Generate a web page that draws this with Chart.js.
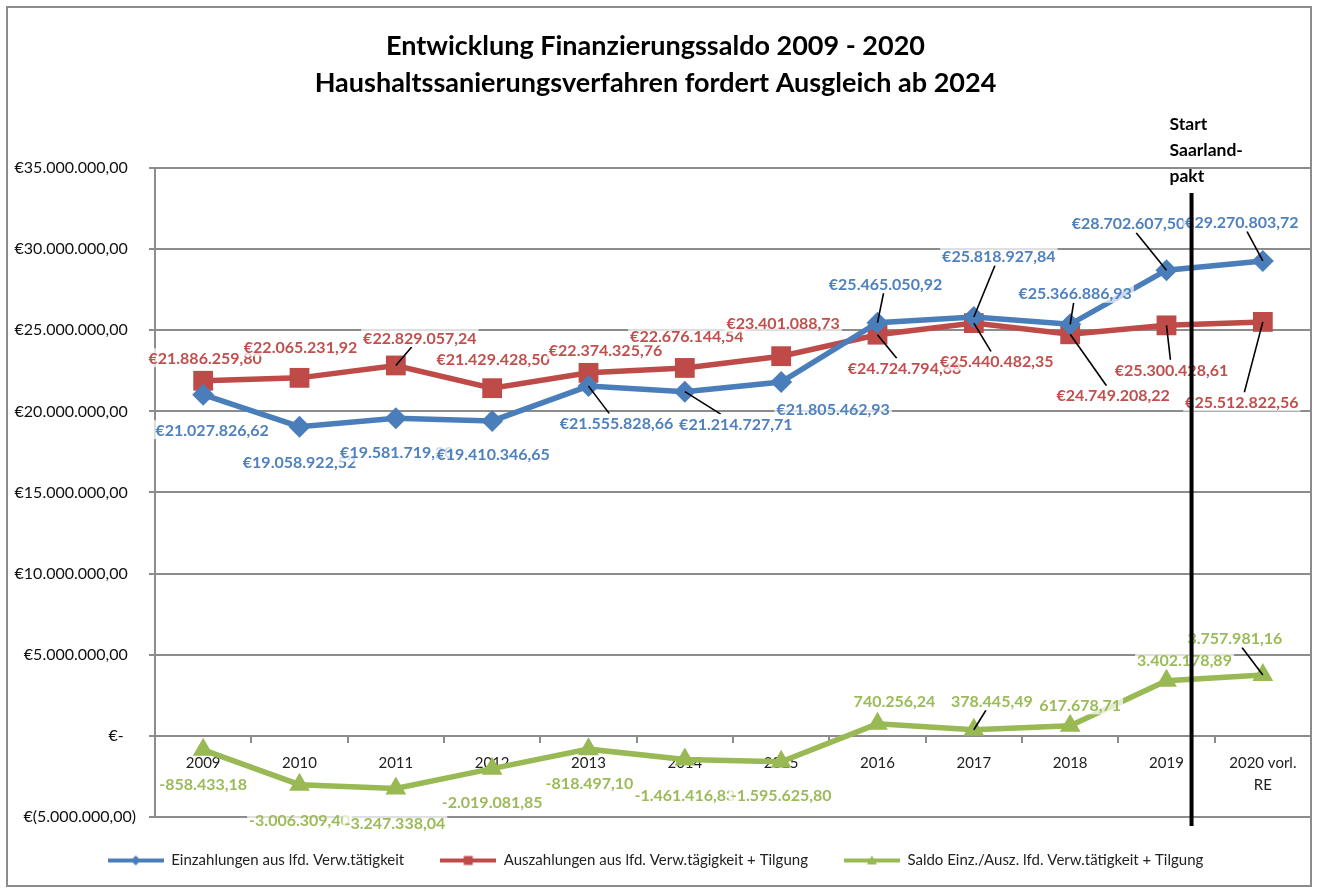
<!DOCTYPE html>
<html>
<head>
<meta charset="utf-8">
<script src="https://cdn.jsdelivr.net/npm/chart.js@4"></script>
<style>
html, body { margin: 0; background: #fff; }
#wrap { width: 1317px; height: 890px; }
</style>
</head>
<body>
<div id="wrap"><canvas id="chart"></canvas></div>
<script>
const jahre = ['2009', '2010', '2011', '2012', '2013', '2014', '2015', '2016', '2017', '2018', '2019', ['2020 vorl.', 'RE']];
const einzahlungen = [21027826.62, 19058922.52, 19581719.20, 19410346.65, 21555828.66, 21214727.71, 21805462.93, 25465050.92, 25818927.84, 25366886.93, 28702607.50, 29270803.72];
const auszahlungen = [21886259.80, 22065231.92, 22829057.24, 21429428.50, 22374325.76, 22676144.54, 23401088.73, 24724794.68, 25440482.35, 24749208.22, 25300428.61, 25512822.56];
const saldo = [-858433.18, -3006309.40, -3247338.04, -2019081.85, -818497.10, -1461416.83, -1595625.80, 740256.24, 378445.49, 617678.71, 3402178.89, 3757981.16];
const yMin = -5000000, yMax = 35000000, yStep = 5000000;

const serienNamen = ['Einzahlungen aus lfd. Verw.tätigkeit', 'Auszahlungen aus lfd. Verw.tägigkeit + Tilgung', 'Saldo Einz./Ausz. lfd. Verw.tätigkeit + Tilgung'];
const farben = ['#4A7EBB', '#BE4B48', '#98B954'];
const labelFarben = ['#4F81BD', '#C0504D', '#9BBB59'];
const prefix = ['€', '€', ''];

// Versatz der Datenbeschriftungen (px) relativ zum Punkt
const labelVersatz = [
	[[9,35],[0,35],[1,34],[1,33],[28,37],[51,32],[52,27],[8,-39],[25,-61],[5,-31],[-38,-47],[-21,-39]],
	[[2,-23],[1,-31],[24,-28],[1,-29],[17,-23],[2,-32],[2,-33],[27,33],[23,38],[43,61],[5,44],[-21,80]],
	[[0,34],[0,35],[-1,34],[0,33],[1,34],[0,35],[0,33],[17,-23],[18,-29],[10,-21],[18,-21],[-28,-37]]
];
const leitlinien = [[4,5,7,8,9,10,11], [2,7,8,9,10,11], [8,11]];

const deZahl = (v) => {
	const neg = v < 0;
	let [ganz, dez] = Math.abs(v).toFixed(2).split('.');
	ganz = ganz.replace(/(\d)(?=(\d{3})+(?!\d))/g, '$1.');
	return (neg ? '-' : '') + ganz + ',' + dez;
}

// kleine Legendensymbole: Linie mit Marker
const legendSymbol = (farbe, form) => {
	const c = document.createElement('canvas');
	c.width = 56; c.height = 12;
	const g = c.getContext('2d');
	g.strokeStyle = farbe; g.fillStyle = farbe; g.lineWidth = 4;
	g.beginPath(); g.moveTo(0, 6); g.lineTo(56, 6); g.stroke();
	g.beginPath();
	if (form === 'rauten') { g.moveTo(28, 1); g.lineTo(33, 6); g.lineTo(28, 11); g.lineTo(23, 6); }
	else if (form === 'quadrat') { g.rect(23.5, 1.5, 9, 9); }
	else { g.moveTo(28, 1); g.lineTo(33, 10); g.lineTo(23, 10); }
	g.closePath(); g.fill();
	return c;
}
const symbole = [legendSymbol(farben[0], 'rauten'), legendSymbol(farben[1], 'quadrat'), legendSymbol(farben[2], 'dreieck')];

const rahmen = {
	id: 'rahmen',
	beforeDraw(chart) {
		const ctx = chart.ctx;
		ctx.save();
		ctx.fillStyle = '#fff';
		ctx.fillRect(0, 0, chart.width, chart.height);
		ctx.strokeStyle = '#8c8c8c';
		ctx.lineWidth = 2;
		ctx.strokeRect(7, 7, 1304, 879);
		ctx.restore();
	}
};

const beschriftung = {
	id: 'beschriftung',
	afterDatasetsDraw(chart) {
		const ctx = chart.ctx;
		ctx.save();
		ctx.font = 'bold 16px Lato';
		ctx.textAlign = 'center';
		ctx.textBaseline = 'middle';
		chart.data.datasets.forEach((ds, i) => {
			const meta = chart.getDatasetMeta(i);
			meta.data.forEach((pt, j) => {
				const [dx, dy] = labelVersatz[i][j];
				const cx = pt.x + dx, cy = pt.y + dy;
				const text = prefix[i] + deZahl(ds.data[j]);
				const w = ctx.measureText(text).width + 4, h = 19;
				if (leitlinien[i].includes(j)) {
					const ddx = pt.x - cx, ddy = pt.y - cy;
					const t = Math.min(Math.abs(ddx) > 0 ? (w / 2) / Math.abs(ddx) : 9, Math.abs(ddy) > 0 ? (h / 2) / Math.abs(ddy) : 9);
					ctx.strokeStyle = '#000';
					ctx.lineWidth = 1.6;
					ctx.beginPath();
					ctx.moveTo(pt.x, pt.y);
					ctx.lineTo(cx + ddx * t, cy + ddy * t);
					ctx.stroke();
				}
				ctx.fillStyle = 'rgba(255,255,255,0.72)';
				ctx.fillRect(cx - w / 2, cy - h / 2, w, h);
				ctx.fillStyle = labelFarben[i];
				ctx.fillText(text, cx, cy + 1);
			});
		});
		ctx.restore();
	}
};

const saarlandpakt = {
	id: 'saarlandpakt',
	afterDraw(chart) {
		const ctx = chart.ctx, x = chart.scales.x, area = chart.chartArea;
		const px = x.getPixelForValue(10) + 0.26 * (x.getPixelForValue(11) - x.getPixelForValue(10));
		ctx.save();
		ctx.strokeStyle = '#000';
		ctx.lineWidth = 4;
		ctx.beginPath();
		ctx.moveTo(px, area.top + 25);
		ctx.lineTo(px, area.bottom + 9);
		ctx.stroke();
		ctx.fillStyle = '#000';
		ctx.font = 'bold 17.5px Lato';
		ctx.textAlign = 'left';
		ctx.textBaseline = 'middle';
		['Start', 'Saarland-', 'pakt'].forEach((z, k) => ctx.fillText(z, px - 22, area.top - 44 + k * 26));
		ctx.restore();
	}
};

Chart.defaults.font.family = 'Lato';
Chart.defaults.color = '#222';

const datasets = [einzahlungen, auszahlungen, saldo].map((werte, i) => ({
	label: serienNamen[i],
	data: werte,
	borderColor: farben[i],
	backgroundColor: farben[i],
	borderWidth: 5.5,
	pointStyle: ['rectRot', 'rect', 'triangle'][i],
	pointRadius: [11, 14, 12][i],
	pointHoverRadius: [11, 14, 12][i],
	pointBorderWidth: 0,
	tension: 0,
	clip: false
}));

const chart = new Chart(document.getElementById('chart'), {
	type: 'line',
	data: { labels: jahre, datasets: datasets },
	options: {
		responsive: true,
		maintainAspectRatio: false,
		animation: false,
		layout: { autoPadding: false, padding: { left: 0, right: 6, top: 0, bottom: 12 } },
		plugins: {
			title: {
				display: true,
				text: ['Entwicklung Finanzierungssaldo 2009 - 2020', 'Haushaltssanierungsverfahren fordert Ausgleich ab 2024'],
				color: '#000',
				font: { size: 27, weight: 'bold', lineHeight: 1.37 },
				padding: { top: 28, bottom: 66 }
			},
			legend: {
				position: 'bottom',
				labels: {
					usePointStyle: true,
					pointStyleWidth: 56,
					padding: 36,
					color: '#222',
					font: { size: 15 },
					generateLabels: (c) => Chart.defaults.plugins.legend.labels.generateLabels(c).map((l, i) => Object.assign(l, { pointStyle: symbole[i] }))
				}
			},
			tooltip: { enabled: false }
		},
		scales: {
			x: {
				position: { y: 0 },
				offset: true,
				grid: { drawOnChartArea: false, offset: true, tickLength: 6, color: '#8c8c8c', lineWidth: 2 },
				border: { display: true, color: '#8c8c8c', width: 2 },
				ticks: { padding: 10, font: { size: 15, lineHeight: 1.5 }, color: '#222', maxRotation: 0, autoSkip: false }
			},
			y: {
				min: yMin,
				max: yMax,
				afterFit: (s) => { s.width = 155; },
				grid: { color: '#8c8c8c', lineWidth: 2, tickLength: 6 },
				border: { display: true, color: '#8c8c8c', width: 2 },
				ticks: {
					stepSize: yStep,
					padding: 13,
					color: '#111',
					font: { size: 16 },
					callback: (v) => v === 0 ? '€-   ' : (v < 0 ? '€(' + deZahl(-v) + ')' : '€' + deZahl(v) + '  ')
				}
			}
		}
	},
	plugins: [rahmen, beschriftung, saarlandpakt]
});
</script>
</body>
</html>
